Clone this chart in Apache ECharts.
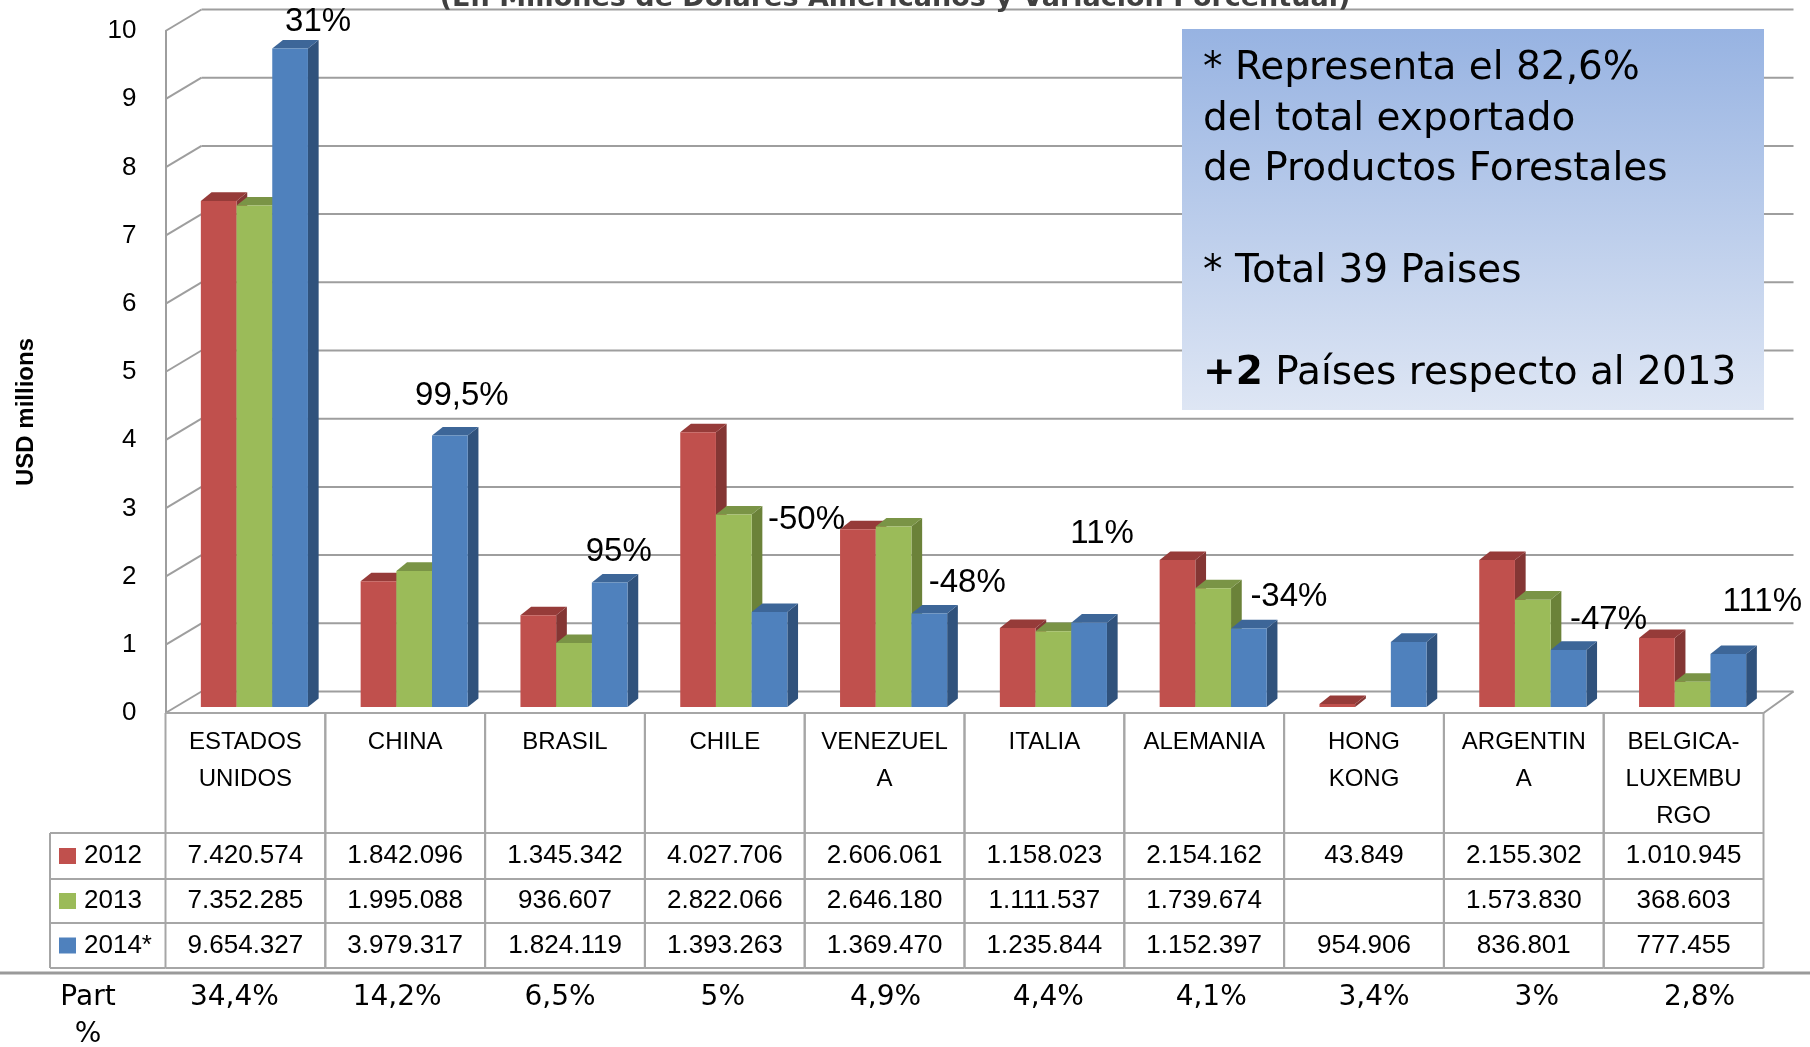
<!DOCTYPE html>
<html>
<head>
<meta charset="utf-8">
<title>Exportaciones de Productos Forestales</title>
<script src="https://cdn.jsdelivr.net/npm/echarts@6/dist/echarts.min.js"></script>
<style>
  html, body { margin: 0; padding: 0; background: #fff; }
  #chart { width: 1810px; height: 1047px; }
</style>
</head>
<body>
<div id="chart"></div>
<script>
// datos en miles de USD
const paises = ["ESTADOS\nUNIDOS", "CHINA", "BRASIL", "CHILE", "VENEZUEL\nA", "ITALIA",
  "ALEMANIA", "HONG\nKONG", "ARGENTIN\nA", "BELGICA-\nLUXEMBU\nRGO"];
const anios = ["2012", "2013", "2014*"];
const exp2012 = [7420574, 1842096, 1345342, 4027706, 2606061, 1158023, 2154162, 43849, 2155302, 1010945];
const exp2013 = [7352285, 1995088, 936607, 2822066, 2646180, 1111537, 1739674, null, 1573830, 368603];
const exp2014 = [9654327, 3979317, 1824119, 1393263, 1369470, 1235844, 1152397, 954906, 836801, 777455];
const variacion = ["31%", "99,5%", "95%", "-50%", "-48%", "11%", "-34%", "", "-47%", "111%"];
const participacion = ["34,4%", "14,2%", "6,5%", "5%", "4,9%", "4,4%", "4,1%", "3,4%", "3%", "2,8%"];
const yTicks = [0, 1, 2, 3, 4, 5, 6, 7, 8, 9, 10];

const series = [exp2012, exp2013, exp2014];

// estilos
const barColors = [
  { front: "#C0504D", top: "#963B39", side: "#843634" },
  { front: "#9BBB59", top: "#7A9446", side: "#6B8239" },
  { front: "#4F81BD", top: "#3D6698", side: "#30527C" },
];
const gridColor = "#9E9E9E";
const tableColor = "#A6A6A6";
const barRatio = 35.7 / 159.8;
const barShift = [9, -6];
const barDepth = [10.7, -8.6];
const wallDepthL = [36, -21.5];
const wallDepthR = [30, -21.5];
// desplazamiento de las etiquetas de variacion respecto a la barra 2014
const varOffset = [[28, -27], [12, -40], [9, -31], [37, -92], [38, -31], [13, -89],
  [40, -32], [0, 0], [40, -30], [34, -52]];
const rowY = [713, 833, 879, 923, 968];
const calibri = '"Liberation Sans", Arial, sans-serif';
const gothic = '"DejaVu Sans", sans-serif';

const fmt = (n) => String(n).replace(/\B(?=(\d{3})+(?!\d))/g, ".");

function txt(x, y, text, font, align) {
  return {
    type: "text", x: x, y: y,
    style: { text: text, font: font, fill: "#000", textAlign: align || "center", textVerticalAlign: "middle" },
  };
}
function ln(x1, y1, x2, y2, color, width) {
  return {
    type: "line", shape: { x1: x1, y1: y1, x2: x2, y2: y2 },
    style: { stroke: color || tableColor, lineWidth: width || 2 },
  };
}

function makeBarRender(k) {
  return function (params, api) {
    const i = params.dataIndex;
    const v = api.value(1);
    if (v == null || isNaN(v)) return null;
    const top = api.coord([i, v]);
    const base = api.coord([i, 0]);
    const w = api.size([1, 0])[0] * barRatio;
    const x0 = top[0] + (k - 1) * w - w / 2 + barShift[0];
    const y0 = top[1] + barShift[1];
    const yb = base[1] + barShift[1];
    const dx = barDepth[0], dy = barDepth[1];
    const c = barColors[k];
    const children = [
      { type: "polygon", shape: { points: [[x0 + w, y0], [x0 + w + dx, y0 + dy], [x0 + w + dx, yb + dy], [x0 + w, yb]] }, style: { fill: c.side } },
      { type: "polygon", shape: { points: [[x0, y0], [x0 + w, y0], [x0 + w + dx, y0 + dy], [x0 + dx, y0 + dy]] }, style: { fill: c.top } },
      { type: "rect", shape: { x: x0, y: y0, width: w, height: yb - y0 }, style: { fill: c.front } },
    ];
    if (k === 2 && variacion[i]) {
      children.push(txt(x0 + w / 2 + varOffset[i][0], y0 + varOffset[i][1], variacion[i], "33px " + calibri));
    }
    return { type: "group", children: children };
  };
}

function renderWalls(params, api) {
  const cs = params.coordSys;
  const left = cs.x, right = cs.x + cs.width;
  const y = api.coord([0, api.value(1)])[1];
  const children = [
    ln(left, y, left + wallDepthL[0], y + wallDepthL[1], gridColor, 2),
    ln(left + wallDepthL[0], y + wallDepthL[1], right + wallDepthR[0], y + wallDepthR[1], gridColor, 2),
  ];
  if (api.value(1) === 0) {
    children.push(ln(right, y, right + wallDepthR[0], y + wallDepthR[1], gridColor, 2));
    children.push(ln(left, y, right, y, gridColor, 2));
  }
  return { type: "group", children: children };
}

function renderTable(params, api) {
  const i = params.dataIndex;
  const cx = api.coord([i, 0])[0];
  const w = api.size([1, 0])[0];
  const xl = cx - w / 2, xr = cx + w / 2;
  const ch = [];
  ch.push(ln(xl, rowY[0], xl, rowY[4]));
  ch.push(ln(xr, rowY[0], xr, rowY[4]));
  rowY.forEach((y) => ch.push(ln(xl, y, xr, y)));
  paises[i].split("\n").forEach((t, j) => ch.push(txt(cx, 742 + j * 37, t, "24px " + calibri)));
  series.forEach((arr, r) => {
    if (arr[i] != null) ch.push(txt(cx, (rowY[r + 1] + rowY[r + 2]) / 2, fmt(arr[i]), "26px " + calibri));
  });
  ch.push(txt(cx - 11 + 3 * i, 998, participacion[i], "28px " + gothic));
  if (i === 0) {
    const lx = 50;
    for (let r = 1; r < rowY.length; r++) ch.push(ln(lx, rowY[r], xl, rowY[r]));
    ch.push(ln(lx, rowY[1], lx, rowY[4]));
    anios.forEach((a, r) => {
      const ym = (rowY[r + 1] + rowY[r + 2]) / 2;
      ch.push({ type: "rect", shape: { x: 59, y: ym - 8, width: 17, height: 16 }, style: { fill: barColors[r].front } });
      ch.push(txt(84, ym, a, "26px " + calibri, "left"));
    });
    ch.push(txt(88, 998, "Part", "28px " + gothic));
    ch.push(txt(88, 1035, "%", "28px " + gothic));
  }
  return { type: "group", children: ch };
}

// recuadro con notas
const boxX = 1182, boxY = 29;
const notas = [
  { text: "* Representa el 82,6%", y: 40 },
  { text: "del total exportado", y: 91 },
  { text: "de Productos Forestales", y: 141 },
  { text: "* Total 39 Paises", y: 243 },
  { text: "{b|+2} Países respecto al 2013", y: 345 },
];
const boxGraphics = [
  {
    type: "rect", z: 100, shape: { x: boxX, y: boxY, width: 582, height: 381 },
    style: {
      fill: new echarts.graphic.LinearGradient(0, 0, 0, 1, [
        { offset: 0, color: "#97B3E2" },
        { offset: 1, color: "#DEE6F4" },
      ]),
    },
  },
].concat(notas.map((n) => ({
  type: "text", z: 101, x: boxX + 21, y: boxY + n.y,
  style: {
    text: n.text, font: "39px " + gothic, fill: "#000", textVerticalAlign: "middle",
    rich: { b: { fontWeight: "bold", fontSize: 39, fontFamily: gothic } },
  },
})));

const chart = echarts.init(document.getElementById("chart"));
const option = {
  animation: false,
  backgroundColor: "#fff",
  grid: { left: 165.5, right: 46.5, top: 31, bottom: 334, containLabel: false, outerBoundsMode: "none" },
  xAxis: {
    type: "category",
    data: paises,
    show: false,
  },
  yAxis: {
    type: "value",
    min: 0,
    max: 10,
    interval: 1,
    axisLine: { show: true, lineStyle: { color: gridColor, width: 2 } },
    axisTick: { show: false },
    splitLine: { show: false },
    axisLabel: { color: "#000", fontSize: 26, fontFamily: calibri, margin: 29 },
  },
  graphic: [
    {
      type: "text", x: 895, y: -1, z: 5,
      style: { text: "(En Millones de Dólares Americanos y Variación Porcentual)", font: "bold 27px " + gothic, fill: "#404040", textAlign: "center", textVerticalAlign: "middle" },
    },
    {
      type: "text", x: 26, y: 412, rotation: Math.PI / 2,
      style: { text: "USD millions", font: "bold 24px " + calibri, fill: "#000", textAlign: "center", textVerticalAlign: "middle" },
    },
    {
      type: "line", shape: { x1: 0, y1: 973, x2: 1810, y2: 973 },
      style: { stroke: "#9A9A9A", lineWidth: 3 },
    },
  ].concat(boxGraphics),
  series: [
    {
      type: "custom", name: "walls", z: 1, silent: true,
      renderItem: renderWalls,
      data: yTicks.map((t) => [0, t]),
    },
  ].concat(series.map((arr, k) => ({
    type: "custom", name: anios[k], z: 3, silent: true,
    renderItem: makeBarRender(k),
    data: arr.map((v, i) => [i, v == null ? null : v / 1e6]),
  }))).concat([
    {
      type: "custom", name: "tabla", z: 4, silent: true,
      renderItem: renderTable,
      data: paises.map((p, i) => [i, 0]),
    },
  ]),
};
chart.setOption(option);
</script>
</body>
</html>
